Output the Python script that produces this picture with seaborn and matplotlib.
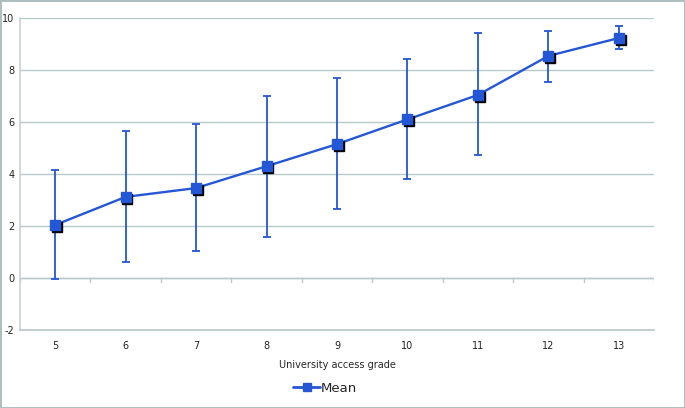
import matplotlib
matplotlib.use("Agg")
import matplotlib.pyplot as plt
import matplotlib.transforms as mtransforms
from matplotlib.lines import Line2D
import seaborn as sns
import pandas as pd

# Data
grades = ["5", "6", "7", "8", "9", "10", "11", "12", "13"]
mean = [2.04, 3.12, 3.46, 4.30, 5.15, 6.10, 7.04, 8.54, 9.23]
upper = [4.15, 5.65, 5.92, 7.00, 7.69, 8.42, 9.42, 9.50, 9.69]
lower = [-0.04, 0.62, 1.04, 1.58, 2.65, 3.81, 4.73, 7.54, 8.80]

df = pd.DataFrame({"grade": grades, "mean": mean, "upper": upper, "lower": lower})

sns.set_theme(style="white")
plt.rcParams["font.family"] = ["DejaVu Sans"]
plt.rcParams["axes.unicode_minus"] = False

blue = "#2457d6"
grid = "#b9c9c9"

fig = plt.figure(figsize=(6.85, 4.08), dpi=100)
fig.patch.set_edgecolor("#aebfbf")
fig.patch.set_linewidth(2)
ax = fig.add_axes([0.029, 0.191, 0.926, 0.765])

x = list(range(len(grades)))

# error bars
ax.errorbar(x, df["mean"],
            yerr=[df["mean"] - df["lower"], df["upper"] - df["mean"]],
            fmt="none", ecolor=blue, elinewidth=1.3, capsize=3, capthick=1.3, zorder=3)

# line
sns.lineplot(x=x, y=df["mean"], ax=ax, color=blue, linewidth=1.7, zorder=4)

# shadowed square markers
shadow = ax.transData + mtransforms.ScaledTranslation(1.2 / 72, -1.2 / 72, fig.dpi_scale_trans)
ax.plot(x, df["mean"], linestyle="none", marker="s", markersize=7.5, color="black",
        transform=shadow, zorder=5)
ax.plot(x, df["mean"], linestyle="none", marker="s", markersize=7.5, color=blue,
        markeredgecolor=blue, zorder=6)

ax.set_xlim(-0.5, len(grades) - 0.5)
ax.set_ylim(-2, 10)
ax.set_yticks(range(-2, 11, 2))
ax.set_xticks(x)
ax.set_xticklabels(grades)
ax.yaxis.grid(True, color=grid, linewidth=1)
ax.set_axisbelow(True)
for s in ["top", "right"]:
    ax.spines[s].set_visible(False)
ax.spines["left"].set_color("#c8d4d4")
ax.spines["bottom"].set_color(grid)
ax.tick_params(axis="both", labelsize=7, length=0, pad=8, colors="#222222")
ax.tick_params(axis="y", pad=4)

# category axis at zero with tick marks between categories
ax.axhline(0, color=grid, linewidth=1, zorder=1)
for b in range(len(grades) + 1):
    ax.plot([b - 0.5, b - 0.5], [0, -0.15], color=grid, linewidth=1, zorder=1)

ax.set_xlabel("University access grade", fontsize=7, labelpad=6)
ax.set_ylabel("")

handle = Line2D([0], [0], color=blue, linewidth=2, marker="s", markersize=6)
fig.legend([handle], ["Mean"], loc="center", bbox_to_anchor=(0.475, 0.048),
           frameon=False, fontsize=9.5, handlelength=2, handletextpad=0.1)

plt.savefig("out.png", dpi=100)
plt.close()
